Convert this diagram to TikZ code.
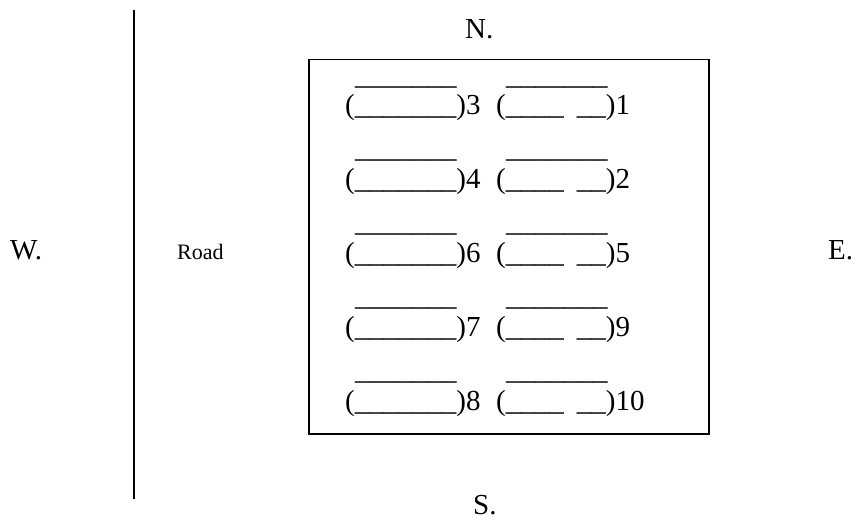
\documentclass[tikz,border=0pt]{standalone}
\usepackage{fontspec}
\setmainfont{Liberation Serif}
\begin{document}
\begin{tikzpicture}[x=1pt,y=-1pt,
  lbl/.style={inner sep=0pt, anchor=base west, font=\fontsize{29}{35}\selectfont},
  smalllbl/.style={inner sep=0pt, anchor=base west, font=\fontsize{22}{26}\selectfont},
  lotbox/.style={draw, line width=1.5pt, minimum width=400pt, minimum height=374pt, anchor=north west, inner sep=0pt},
  roadline/.style={line width=1.3pt}]
\useasboundingbox (0,0) rectangle (856,521);
% lot
\node[lotbox] (lot) at (308,59) {};
% road
\coordinate (rtop) at (134,10);
\coordinate (rbot) at (134,499);
\draw[roadline] (rtop) -- (rbot);
\node[smalllbl] (road) at (177,260) {Road};
% compass
\node[lbl] (north) at (465,39) {N.};
\node[lbl] (south) at (473,514) {S.};
\node[lbl] (west) at (10,259) {W.};
\node[lbl] (east) at (828,260) {E.};
% plots
\foreach \yy/\a/\b [count=\i] in {115/3/1, 188.5/4/2, 262/6/5, 336/7/9, 410/8/10} {
  \node[lbl] (L\i) at (345,\yy) {(\_\_\_\_\_\_\_)\a};
  \node[lbl] (LO\i) at (355,\yy-30.5) {\_\_\_\_\_\_\_};
  \node[lbl] (R\i) at (496,\yy) {(\_\_\_\_\hspace{0.45em}\_\_)\b};
  \node[lbl] (RO\i) at (506,\yy-30.5) {\_\_\_\_\_\_\_};
}
\end{tikzpicture}
\end{document}
